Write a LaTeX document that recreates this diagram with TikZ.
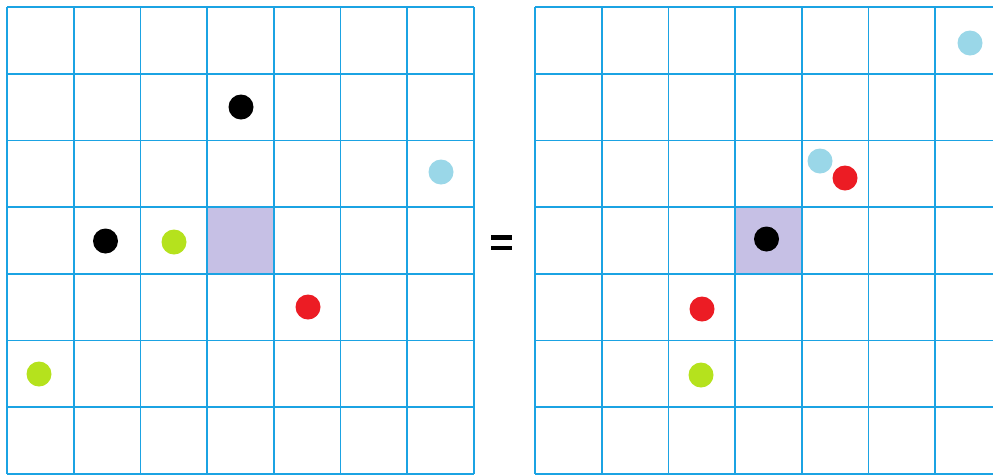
\documentclass[tikz,border=0pt]{standalone}
\definecolor{gridblue}{HTML}{1BA3E3}
\definecolor{cellpurple}{HTML}{C6C0E5}
\definecolor{dotgreen}{HTML}{B5E21D}
\definecolor{dotsky}{HTML}{9AD7E8}
\definecolor{dotred}{HTML}{EC1C24}
\tikzset{
  gridline/.style={draw=gridblue, line width=1.8pt},
  dot/.style={circle, minimum size=25pt, inner sep=0pt, draw=none},
  bar/.style={fill=black, draw=none, minimum width=21pt, minimum height=4.6pt, inner sep=0pt}
}
\begin{document}
\begin{tikzpicture}[x=1pt,y=-1pt]
\useasboundingbox (0,0) rectangle (993,475);
\begin{scope}
\clip (0,0) rectangle (993,475);
% highlighted cells
\fill[cellpurple] (207.1,207.1) rectangle (273.8,273.8);
\fill[cellpurple] (735.1,207.1) rectangle (801.8,273.8);
% left grid
\foreach \i in {0,...,7} {
  \draw[gridline] ({7+\i*66.7},7) -- ({7+\i*66.7},474);
  \draw[gridline] (7,{7+\i*66.7}) -- (474,{7+\i*66.7});
}
% right grid
\foreach \i in {0,...,7} {
  \draw[gridline] ({535+\i*66.7},7) -- ({535+\i*66.7},474);
  \draw[gridline] (535,{7+\i*66.7}) -- (1002,{7+\i*66.7});
}
\end{scope}
% left dots
\node[dot, fill=black]    (l1) at (241,107) {};
\node[dot, fill=dotsky]   (l2) at (441,172) {};
\node[dot, fill=black]    (l3) at (105.5,241) {};
\node[dot, fill=dotgreen] (l4) at (174,242) {};
\node[dot, fill=dotred]   (l5) at (308,307) {};
\node[dot, fill=dotgreen] (l6) at (39,374) {};
% right dots
\node[dot, fill=dotsky]   (r1) at (970,43) {};
\node[dot, fill=dotsky]   (r2) at (820,161) {};
\node[dot, fill=dotred]   (r3) at (845,178) {};
\node[dot, fill=black]    (r4) at (766.5,239) {};
\node[dot, fill=dotred]   (r5) at (702,309) {};
\node[dot, fill=dotgreen] (r6) at (701,375) {};
% equals sign
\node[bar] (eqtop) at (501,237.6) {};
\node[bar] (eqbot) at (501,248) {};
\end{tikzpicture}
\end{document}
